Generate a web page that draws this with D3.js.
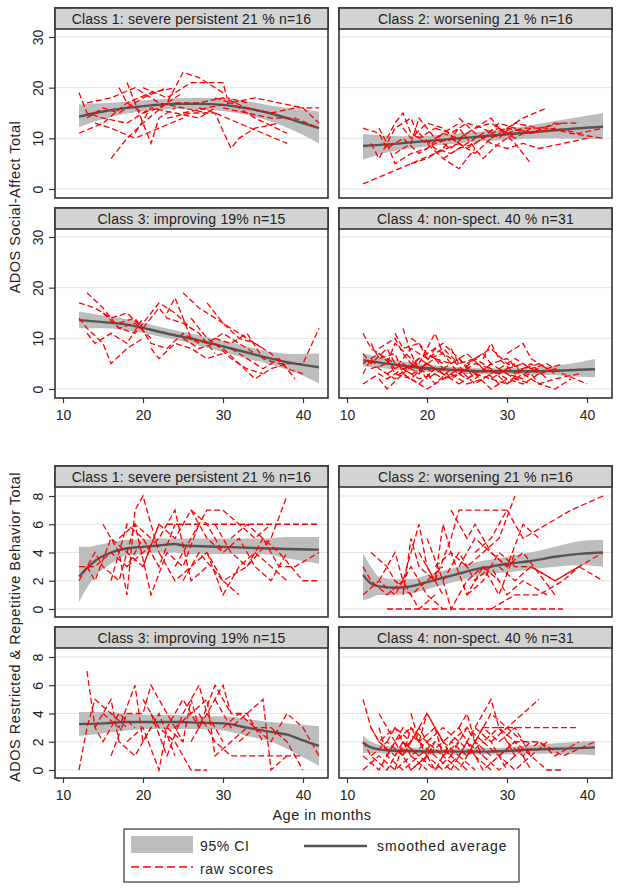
<!DOCTYPE html>
<html><head><meta charset="utf-8">
<script src="https://cdn.jsdelivr.net/npm/d3@7"></script>
<style>
body{margin:0;background:#fff}
text{font-family:"Liberation Sans",Arial,sans-serif;fill:#222}
</style>
</head><body>
<svg id="c" width="624" height="891"></svg>
<script>
// ---------- DATA ----------
const panelTitles = [
  "Class 1: severe persistent 21 % n=16",
  "Class 2: worsening 21 % n=16",
  "Class 3: improving 19% n=15",
  "Class 4: non-spect. 40 % n=31"
];
const xTicks = [10, 20, 30, 40];
const saTicks = [0, 10, 20, 30];
const rrbTicks = [0, 2, 4, 6, 8];
const yTitleSA = "ADOS Social-Affect Total";
const yTitleRRB = "ADOS Restricted & Repetitive Behavior Total";
const xTitle = "Age in months";
const legendLabels = ["95% CI", "smoothed average", "raw scores"];

// smoothed average: [age, mean, lower CI, upper CI]
const smoothSA1 = [[12,14.3,12.2,16.7],[15,15.3,13.8,16.9],[18,16.0,14.9,17.2],[21,16.5,15.5,17.6],[24,16.8,15.8,17.9],[27,16.8,15.7,18.0],[30,16.6,15.4,17.9],[33,15.9,14.6,17.3],[36,14.9,13.3,16.5],[39,13.5,11.4,15.8],[42,12.0,9.0,15.3]];
const smoothSA2 = [[12,8.5,5.8,10.9],[15,8.8,7.2,10.5],[18,9.2,8.0,10.4],[21,9.6,8.6,10.6],[24,10.0,9.0,11.0],[27,10.4,9.4,11.4],[30,10.8,9.7,11.9],[33,11.2,9.9,12.6],[36,11.6,10.0,13.4],[39,12.0,9.9,14.2],[42,12.3,9.8,15.0]];
const smoothSA3 = [[12,13.6,12.0,15.3],[15,13.2,12.0,14.5],[18,12.7,11.6,13.8],[21,11.7,10.7,12.7],[24,10.6,9.7,11.6],[27,9.6,8.6,10.6],[30,8.4,7.3,9.5],[33,7.2,6.0,8.4],[36,6.0,4.8,7.3],[39,5.0,3.3,6.9],[42,4.3,1.1,7.0]];
const smoothSA4 = [[12,5.7,4.5,7.0],[15,5.0,4.0,6.0],[18,4.4,3.6,5.2],[21,4.0,3.3,4.7],[24,3.7,3.1,4.3],[27,3.5,2.9,4.1],[30,3.5,2.9,4.1],[33,3.5,2.8,4.2],[36,3.6,2.7,4.6],[39,3.8,2.4,5.3],[41,3.9,2.3,5.9]];
const smoothRRB1 = [[12,2.3,0.5,4.4],[13,2.9,1.5,4.4],[14,3.4,2.3,4.5],[16,4.0,3.2,4.7],[18,4.3,3.8,4.9],[20,4.4,3.9,4.9],[22,4.5,4.0,5.0],[24,4.6,4.0,5.0],[25,4.5,3.9,5.0],[30,4.4,3.9,5.0],[35,4.3,3.9,5.0],[38,4.25,3.6,5.1],[42,4.2,3.2,5.1]];
const smoothRRB2 = [[12,2.4,0.6,3.95],[13,1.8,0.8,3.0],[14,1.6,1.0,2.3],[16,1.5,1.0,2.1],[18,1.6,1.1,2.1],[20,1.9,1.4,2.4],[22,2.2,1.7,2.7],[24,2.5,2.0,3.0],[26,2.8,2.3,3.3],[28,3.0,2.5,3.5],[30,3.2,2.6,3.7],[33,3.4,2.8,4.0],[36,3.7,3.0,4.4],[39,3.9,3.1,4.8],[42,4.0,3.0,4.9]];
const smoothRRB3 = [[12,3.25,2.4,4.1],[15,3.3,2.6,4.1],[18,3.4,2.8,4.0],[21,3.4,2.9,3.9],[24,3.4,2.9,3.9],[27,3.35,2.9,3.8],[30,3.3,2.8,3.8],[33,3.0,2.4,3.6],[36,2.7,2.0,3.4],[38,2.5,1.5,3.3],[40,2.1,0.9,3.2],[42,1.7,0.3,3.1]];
const smoothRRB4 = [[12,1.95,1.2,2.45],[13,1.6,1.2,2.0],[15,1.4,1.15,1.7],[18,1.35,1.15,1.6],[21,1.3,1.1,1.5],[24,1.3,1.1,1.5],[27,1.3,1.1,1.55],[30,1.35,1.1,1.6],[33,1.45,1.15,1.75],[36,1.5,1.15,1.9],[39,1.55,1.1,2.0],[41,1.6,1.05,2.05]];

// raw scores: one trajectory per child, [age, score]
const rawSA1 = [
 [[12,19],[13,15],[15,14],[18,13],[21,16]],
 [[12,11],[15,13],[18,17],[21,19],[24,20]],
 [[13,17],[16,18],[19,20],[22,17],[25,16],[28,15]],
 [[14,13],[16,12],[19,10],[22,12],[25,14]],
 [[16,6],[18,10],[20,13],[23,17],[25,23],[27,22],[30,19]],
 [[17,20],[18,17],[20,15],[22,16],[25,19]],
 [[18,21],[19,17],[21,9],[22,14],[24,16]],
 [[19,11],[21,16],[24,15],[27,14],[29,16]],
 [[20,20],[23,18],[26,21],[30,21],[30.5,18],[33,17]],
 [[23,14],[26,15],[29,15],[31,8],[32,10],[34,12],[37,13]],
 [[24,17],[27,17],[30,18],[33,16],[36,15],[39,16],[42,16]],
 [[25,15],[28,16],[31,17],[34,14],[38,11]],
 [[27,16],[29,15],[32,13],[35,11],[38,9]],
 [[29,18],[31,17],[34,18],[37,17],[40,16],[42,13]],
 [[30,16],[33,15],[36,14],[39,14],[42,12]],
 [[13,14],[15,16],[17,15],[20,18],[23,20]]
];
const rawSA2 = [
 [[12,1],[15,3],[18,5],[21,7],[24,9]],
 [[12,12],[14,11],[15,8],[17,10],[19,7],[21,9],[23,10]],
 [[13,9],[14,6],[16,12],[18,14],[19,10],[21,12]],
 [[14,12],[15,9],[16,5],[18,7],[20,8],[22,11],[24,13]],
 [[15,10],[16,13],[17,15],[18,11],[20,9],[22,6],[24,4],[26,8]],
 [[16,7],[18,9],[19,14],[20,12],[21,10],[23,8],[25,11]],
 [[17,12],[18,10],[20,13],[22,12],[24,9],[26,7],[28,10]],
 [[18,5],[20,6],[22,8],[24,12],[25,10],[27,6],[29,9],[31,11]],
 [[19,11],[21,8],[23,7],[25,9],[27,11],[29,12],[31,10],[33,12]],
 [[20,9],[22,11],[24,10],[26,12],[28,14],[29,12],[31,9],[33,5]],
 [[21,12],[23,11],[25,13],[27,12],[29,10],[31,13],[34,12],[37,13]],
 [[22,6],[24,8],[26,9],[28,11],[30,12],[32,14],[35,16]],
 [[23,10],[25,8],[27,10],[29,13],[31,12],[33,11],[36,13],[39,13]],
 [[24,14],[26,11],[28,9],[30,8],[32,9],[34,8],[37,9],[40,10]],
 [[26,12],[28,13],[30,11],[32,12],[35,12],[38,11],[42,10]],
 [[28,10],[30,12],[33,11],[36,12],[39,11],[42,12]]
];
const rawSA3 = [
 [[12,17],[14,16],[16,14],[18,15],[20,12]],
 [[13,19],[15,16],[17,12],[19,13],[21,10]],
 [[12,14],[13,12],[15,9],[16,5],[18,8],[20,10]],
 [[13,11],[14,9],[16,11],[18,9],[20,14]],
 [[15,15],[17,12],[19,11],[21,15],[22,17],[24,15],[26,12]],
 [[17,13],[19,14],[21,9],[23,8],[25,11],[27,9]],
 [[20,12],[22,16],[23,14],[25,13],[27,11],[29,7]],
 [[21,8],[22,6],[24,9],[26,8],[28,6],[30,7]],
 [[23,15],[24,18],[26,10],[28,9],[30,11],[32,9],[34,7]],
 [[25,19],[27,16],[29,14],[31,12],[33,10],[35,8]],
 [[25,10],[27,8],[29,9],[31,6],[33,4],[35,3]],
 [[26,14],[28,10],[30,8],[32,5],[34,2],[36,4],[38,5]],
 [[28,17],[30,13],[32,10],[34,9],[36,7],[38,4],[40,3]],
 [[29,10],[31,9],[33,11],[35,6],[37,5],[40,5],[42,12]],
 [[31,8],[33,6],[35,4],[37,6],[39,2]]
];
const rawSA4 = [
 [[12,11],[13,8],[15,6],[17,4],[19,5]],
 [[12,3],[13,6],[14,4],[16,2],[18,5],[20,3]],
 [[12,7],[13,5],[15,8],[16,5],[18,3],[20,4]],
 [[12,1],[14,3],[15,2],[17,4],[19,2],[21,3]],
 [[13,9],[14,6],[16,7],[17,3],[19,6],[21,4]],
 [[13,4],[15,5],[16,9],[18,6],[20,2],[22,4]],
 [[14,2],[15,0],[17,3],[19,1],[21,4],[23,2]],
 [[14,8],[16,10],[17,7],[18,5],[20,7],[22,5]],
 [[15,6],[16,3],[18,2],[20,5],[22,3],[24,1]],
 [[16,11],[17,8],[19,9],[20,6],[22,8],[24,5]],
 [[17,12],[18,7],[19,4],[21,6],[23,2],[25,4]],
 [[18,10],[19,9],[20,7],[22,9],[24,6],[26,3]],
 [[18,2],[20,0],[22,2],[24,4],[26,1],[28,3]],
 [[19,5],[20,8],[21,11],[22,7],[24,3],[26,5]],
 [[20,3],[21,1],[23,4],[25,2],[27,4],[29,1]],
 [[21,6],[23,5],[25,7],[27,4],[29,3],[31,5]],
 [[22,4],[24,6],[26,2],[28,5],[30,3],[32,2]],
 [[23,8],[24,5],[26,6],[28,8],[30,5],[32,4]],
 [[24,1],[26,3],[28,0],[30,2],[32,1],[34,3]],
 [[25,5],[27,7],[28,5],[30,6],[32,3],[34,4]],
 [[26,3],[28,2],[30,4],[32,5],[34,3],[36,4]],
 [[27,6],[28,9],[29,6],[31,3],[33,5],[35,2]],
 [[28,2],[30,1],[32,3],[34,1],[36,2],[39,3]],
 [[29,4],[31,6],[33,4],[35,5],[37,3],[40,1]],
 [[30,7],[32,9],[33,6],[35,4],[37,5]],
 [[31,2],[33,3],[34,1],[36,0],[38,2]],
 [[12,5],[14,7],[16,4],[18,8],[20,6],[22,7]],
 [[15,3],[17,5],[19,3],[21,8],[23,6],[25,3]],
 [[20,4],[22,2],[24,3],[26,6],[28,4],[30,2]],
 [[23,3],[25,1],[27,2],[29,4],[31,2],[33,1]],
 [[26,5],[28,4],[30,1],[32,4],[34,5],[36,3]]
];
const rawRRB1 = [
 [[12,3],[14,3],[16,4],[18,3],[20,5]],
 [[12,2],[14,4],[15,3],[17,2],[19,6],[21,5]],
 [[15,6],[17,4],[18,1],[19,7],[20,8],[22,4]],
 [[16,2],[18,6],[20,5],[22,3],[24,6]],
 [[17,5],[19,6],[21,1],[23,4],[25,3],[27,6]],
 [[18,3],[20,4],[22,5],[24,7],[26,2],[28,3]],
 [[20,3],[22,6],[24,5],[26,7],[28,6],[30,4]],
 [[22,4],[24,2],[26,3],[28,4],[30,2],[32,1]],
 [[23,6],[25,6],[27,6],[30,6],[34,6],[38,6],[42,6]],
 [[24,3],[26,5],[28,7],[30,7],[32,6],[34,5],[36,6]],
 [[25,2],[27,4],[30,2],[33,3],[36,5],[38,8]],
 [[26,7],[28,5],[30,4],[32,5],[34,3],[36,2],[38,4]],
 [[28,4],[30,1],[32,3],[34,4],[36,3],[38,2]],
 [[29,6],[31,4],[33,3],[35,5],[37,4],[40,2],[42,2]],
 [[31,5],[33,6],[35,5],[37,3],[39,3],[42,4]],
 [[13,3],[14,2],[16,5],[18,4],[20,3],[22,6]]
];
const rawRRB2 = [
 [[12,3],[13,2],[15,1],[17,2],[19,0],[21,1]],
 [[12,1],[14,2],[16,1],[18,3],[20,1],[22,0]],
 [[13,4],[15,3],[16,2],[18,1],[20,2],[22,3]],
 [[14,2],[16,4],[17,2],[19,6],[20,3],[22,1]],
 [[15,0],[18,0],[22,0],[26,0],[30,0],[34,0],[37,0]],
 [[17,1],[18,5],[19,3],[21,2],[23,5],[24,7],[27,7],[30,7]],
 [[19,4],[21,2],[22,6],[23,4],[25,1],[27,3],[29,2]],
 [[20,5],[22,2],[23,0],[25,2],[27,3],[29,1],[31,4]],
 [[21,3],[23,4],[25,3],[27,4],[29,5],[31,8]],
 [[22,2],[24,4],[26,2],[28,3],[30,1],[32,2],[35,1]],
 [[23,7],[25,5],[26,6],[28,4],[30,3],[32,4],[36,1]],
 [[24,3],[26,5],[28,4],[30,3],[32,6],[34,5]],
 [[25,1],[27,2],[29,4],[31,3],[33,3],[36,2],[39,3]],
 [[26,4],[28,5],[30,7],[32,5],[35,6],[38,7],[42,8]],
 [[29,3],[31,2],[33,3],[36,2],[39,3],[42,2]],
 [[28,0],[31,1],[34,1],[37,2],[39,3],[42,4]]
];
const rawRRB3 = [
 [[12,0],[13,3],[14,5],[16,4],[18,3]],
 [[13,7],[14,3],[15,2],[17,4],[19,3]],
 [[14,3],[16,5],[17,2],[19,1],[21,3]],
 [[15,4],[17,3],[19,6],[20,2],[22,4],[24,1]],
 [[16,1],[18,4],[20,4],[21,6],[23,4],[25,2]],
 [[18,2],[20,3],[22,0],[23,3],[25,5],[27,3]],
 [[20,5],[22,3],[24,2],[26,0],[28,0]],
 [[21,4],[23,1],[25,4],[27,6],[28,4],[30,2]],
 [[23,3],[25,2],[26,5],[27,3],[29,6],[31,4]],
 [[24,3],[26,4],[28,5],[29,1],[31,2],[33,3]],
 [[26,2],[28,4],[30,6],[31,4],[33,4],[35,2]],
 [[27,4],[29,2],[31,1],[33,1],[36,1],[40,1]],
 [[29,5],[31,3],[33,4],[35,5],[36,0],[38,1]],
 [[30,3],[32,4],[34,3],[36,2],[38,4],[40,3],[42,1]],
 [[32,2],[34,3],[36,3],[38,2],[40,0]]
];
const rawRRB4 = [
 [[12,5],[13,3],[14,2],[16,1],[18,2]],
 [[12,2],[13,1],[15,0],[17,2],[19,1]],
 [[12,0],[14,1],[16,0],[18,1],[20,0]],
 [[13,3],[14,2],[16,3],[18,1],[20,2]],
 [[13,1],[15,2],[17,1],[19,3],[21,1]],
 [[14,3],[15,1],[17,0],[19,1],[21,2]],
 [[15,2],[16,3],[18,2],[20,4],[22,2]],
 [[16,0],[17,2],[19,1],[21,0],[23,1]],
 [[17,1],[18,3],[20,2],[22,1],[24,2]],
 [[18,4],[19,2],[21,3],[23,1],[25,0]],
 [[19,2],[20,4],[22,2],[24,3],[26,1]],
 [[20,1],[21,0],[23,2],[25,1],[27,2]],
 [[21,3],[22,1],[24,0],[26,2],[28,1]],
 [[22,2],[24,1],[26,3],[28,2],[30,0]],
 [[23,0],[25,2],[27,1],[29,0],[31,1]],
 [[24,3],[25,4],[26,2],[28,4],[30,3],[32,2]],
 [[25,1],[27,3],[29,2],[31,3],[33,1]],
 [[26,3],[28,5],[29,3],[31,1],[33,2]],
 [[27,2],[29,1],[31,0],[33,1],[35,2]],
 [[28,2],[30,3],[32,4],[34,5]],
 [[29,1],[31,2],[33,1],[35,0],[37,0]],
 [[30,2],[32,1],[34,2],[36,1],[39,2]],
 [[12,1],[14,0],[16,2],[18,0],[20,1]],
 [[15,1],[17,3],[19,2],[21,1],[23,0]],
 [[18,0],[20,1],[22,0],[24,1],[26,0]],
 [[20,2],[22,3],[24,2],[26,1],[28,0]],
 [[23,2],[25,3],[27,2],[29,3],[31,3],[35,3],[39,3]],
 [[25,2],[27,0],[29,1],[31,2],[33,0]],
 [[27,3],[29,3],[31,2],[34,2],[37,1],[41,2]],
 [[14,4],[16,2],[18,3],[20,1],[22,2]],
 [[19,0],[21,2],[23,1],[25,3],[27,1]]
];

// ---------- LAYOUT ----------
const W = 624, H = 891;
const colX = [55, 339], colW = 273;
const blocks = {
  sa:  {rowsY: [8, 208], h: 190, ticks: saTicks, max: 30, padTop: 29, padBot: 9, title: yTitleSA, titleY: 207},
  rrb: {rowsY: [466, 627], h: 151, ticks: rrbTicks, max: 8, padTop: 30, padBot: 8, title: yTitleRRB, titleY: 627}
};
const headerH = 21;
const colors = {band: "#bdbdbd", smooth: "#555555", raw: "#ff0000", frame: "#333333", grid: "#e3e3e3", header: "#d3d3d3"};
const FONT = '"Liberation Sans", Arial, sans-serif';

const panels = [
  {m: "sa", r: 0, c: 0, t: panelTitles[0], raw: rawSA1, sm: smoothSA1},
  {m: "sa", r: 0, c: 1, t: panelTitles[1], raw: rawSA2, sm: smoothSA2},
  {m: "sa", r: 1, c: 0, t: panelTitles[2], raw: rawSA3, sm: smoothSA3},
  {m: "sa", r: 1, c: 1, t: panelTitles[3], raw: rawSA4, sm: smoothSA4},
  {m: "rrb", r: 0, c: 0, t: panelTitles[0], raw: rawRRB1, sm: smoothRRB1},
  {m: "rrb", r: 0, c: 1, t: panelTitles[1], raw: rawRRB2, sm: smoothRRB2},
  {m: "rrb", r: 1, c: 0, t: panelTitles[2], raw: rawRRB3, sm: smoothRRB3},
  {m: "rrb", r: 1, c: 1, t: panelTitles[3], raw: rawRRB4, sm: smoothRRB4}
];

const svg = d3.select("#c");
svg.append("rect").attr("width", W).attr("height", H).attr("fill", "#fff");

panels.forEach(p => {
  const b = blocks[p.m];
  const x0 = colX[p.c], y0 = b.rowsY[p.r], x1 = x0 + colW, y1 = y0 + b.h;
  const x = d3.scaleLinear().domain([10, 40]).range([x0 + 8, x0 + 248]);
  const y = d3.scaleLinear().domain([0, b.max]).range([y1 - b.padBot, y0 + b.padTop]);
  const g = svg.append("g");

  // gridlines
  g.selectAll("line.grid").data(b.ticks).join("line")
    .attr("x1", x0).attr("x2", x1)
    .attr("y1", d => y(d)).attr("y2", d => y(d))
    .attr("stroke", colors.grid).attr("stroke-width", 1);

  // CI band
  const area = d3.area().x(d => x(d[0])).y0(d => y(d[2])).y1(d => y(d[3])).curve(d3.curveMonotoneX);
  g.append("path").datum(p.sm).attr("d", area).attr("fill", colors.band);

  // smoothed average
  const sline = d3.line().x(d => x(d[0])).y(d => y(d[1])).curve(d3.curveMonotoneX);
  g.append("path").datum(p.sm).attr("d", sline).attr("fill", "none")
    .attr("stroke", colors.smooth).attr("stroke-width", 2.4);

  // raw score trajectories
  const rline = d3.line().x(d => x(d[0])).y(d => y(d[1]));
  g.selectAll("path.raw").data(p.raw).join("path")
    .attr("d", rline).attr("fill", "none")
    .attr("stroke", colors.raw).attr("stroke-width", 1.3)
    .attr("stroke-dasharray", "6,3");

  // frame + header
  g.append("rect").attr("x", x0).attr("y", y0).attr("width", colW).attr("height", b.h)
    .attr("fill", "none").attr("stroke", colors.frame).attr("stroke-width", 1.6);
  g.append("rect").attr("x", x0).attr("y", y0).attr("width", colW).attr("height", headerH)
    .attr("fill", colors.header).attr("stroke", colors.frame).attr("stroke-width", 1.6);
  g.append("text").attr("x", x0 + colW / 2).attr("y", y0 + 15.5)
    .attr("text-anchor", "middle").attr("font-size", 14).attr("letter-spacing", 0.2).text(p.t);

  // y axis on left column
  if (p.c === 0) {
    const ya = g.append("g").attr("transform", `translate(${x0},0)`)
      .call(d3.axisLeft(y).tickValues(b.ticks).tickSize(6).tickFormat(d3.format("d")));
    ya.select(".domain").remove();
    ya.selectAll(".tick line").attr("stroke", colors.frame).attr("stroke-width", 1.2);
    ya.selectAll(".tick text").attr("x", 0).attr("dy", "0.35em")
      .attr("transform", "translate(-17,0) rotate(-90)")
      .attr("text-anchor", "middle").attr("font-size", 14).attr("fill", "#222")
      .style("font-family", FONT);
  }
  // x axis on bottom row
  if (p.r === 1) {
    const xa = g.append("g").attr("transform", `translate(0,${y1})`)
      .call(d3.axisBottom(x).tickValues(xTicks).tickSize(5).tickPadding(7));
    xa.select(".domain").remove();
    xa.selectAll(".tick line").attr("stroke", colors.frame).attr("stroke-width", 1.2);
    xa.selectAll(".tick text").attr("font-size", 14).attr("fill", "#222")
      .style("font-family", FONT);
  }
});

// y axis titles
Object.values(blocks).forEach(b => {
  svg.append("text").attr("transform", `translate(20,${b.titleY}) rotate(-90)`)
    .attr("text-anchor", "middle").attr("font-size", 14.5).attr("letter-spacing", 0.5).text(b.title);
});

// x axis title
svg.append("text").attr("x", 322).attr("y", 820).attr("text-anchor", "middle")
  .attr("font-size", 14.5).attr("letter-spacing", 0.5).text(xTitle);

// legend
const lg = svg.append("g");
lg.append("rect").attr("x", 124).attr("y", 829).attr("width", 395).attr("height", 53)
  .attr("fill", "#fff").attr("stroke", colors.frame).attr("stroke-width", 1.2);
lg.append("rect").attr("x", 131).attr("y", 836).attr("width", 62).attr("height", 17).attr("fill", colors.band);
lg.append("text").attr("x", 200).attr("y", 851).attr("font-size", 14).attr("letter-spacing", 0.6).text(legendLabels[0]);
lg.append("line").attr("x1", 304).attr("x2", 367).attr("y1", 846).attr("y2", 846)
  .attr("stroke", colors.smooth).attr("stroke-width", 2.4);
lg.append("text").attr("x", 377).attr("y", 851).attr("font-size", 14).attr("letter-spacing", 0.9).text(legendLabels[1]);
lg.append("line").attr("x1", 131).attr("x2", 193).attr("y1", 867).attr("y2", 867)
  .attr("stroke", colors.raw).attr("stroke-width", 1.3).attr("stroke-dasharray", "8,4");
lg.append("text").attr("x", 200).attr("y", 874).attr("font-size", 14).attr("letter-spacing", 0.6).text(legendLabels[2]);
</script>
</body></html>
